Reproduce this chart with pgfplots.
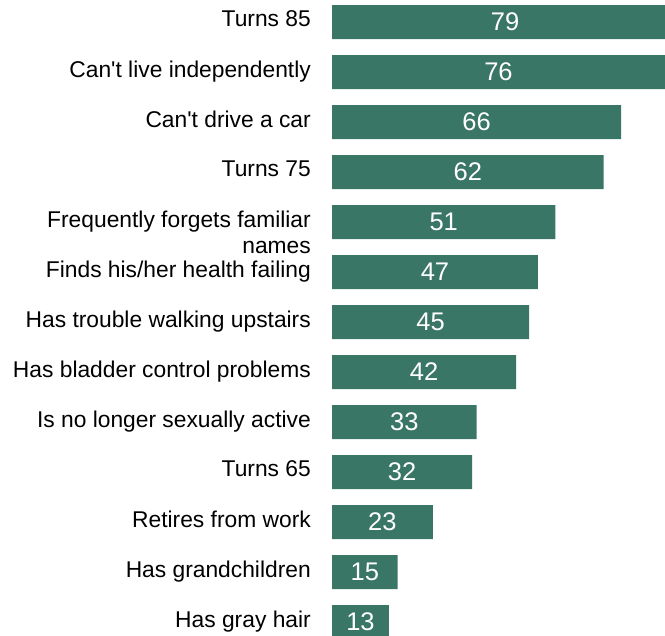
\documentclass[border=0pt]{standalone}
\usepackage{pgfplots}
\pgfplotsset{compat=1.18}
\usepackage{pgfplotstable}
\usepackage{fontspec}
\setmainfont{Liberation Sans}[Ligatures=TeXOff]
\definecolor{bargreen}{RGB}{58,118,101}
\pgfplotstableread[col sep=comma]{
y,v
0,79
1,76
2,66
3,62
4,51
5,47
6,45
7,42
8,33
9,32
10,23
11,15
12,13
}\data
\begin{document}
\begin{tikzpicture}
\begin{axis}[
  scale only axis,
  width=333bp, height=635bp,
  xmin=0, xmax=76,
  ymin=-0.44, ymax=12.26,
  y dir=reverse,
  axis line style={draw=none},
  major tick length=0pt,
  xtick=\empty,
  ytick={0,...,12},
  yticklabels={Turns 85,Can't  live independently,Can't drive a car,Turns 75,{Frequently forgets familiar\\names},Finds his/her health failing,Has trouble walking upstairs,Has bladder control problems,Is no longer sexually active,Turns 65,Retires from work,Has grandchildren,Has gray hair},
  yticklabel style={font=\fontsize{22.8bp}{26bp}\selectfont, align=right, inner sep=0pt, anchor=north east, xshift=-21bp, yshift=11.5bp},
  clip=true,
]
\addplot[xbar, bar width=34bp, fill=bargreen, draw=none] table[x=v, y=y]{\data};
\addplot[only marks, mark=none, nodes near coords, point meta=explicit symbolic,
  nodes near coords style={anchor=center, font=\fontsize{25.5bp}{28bp}\selectfont, text=white, inner sep=0pt}]
  table[x expr=\thisrow{v}/2, y=y, meta=v]{\data};
\end{axis}
\pgfresetboundingbox
\path (current axis.south west) ++(-332bp,0) rectangle (current axis.north east);
\end{tikzpicture}
\end{document}
